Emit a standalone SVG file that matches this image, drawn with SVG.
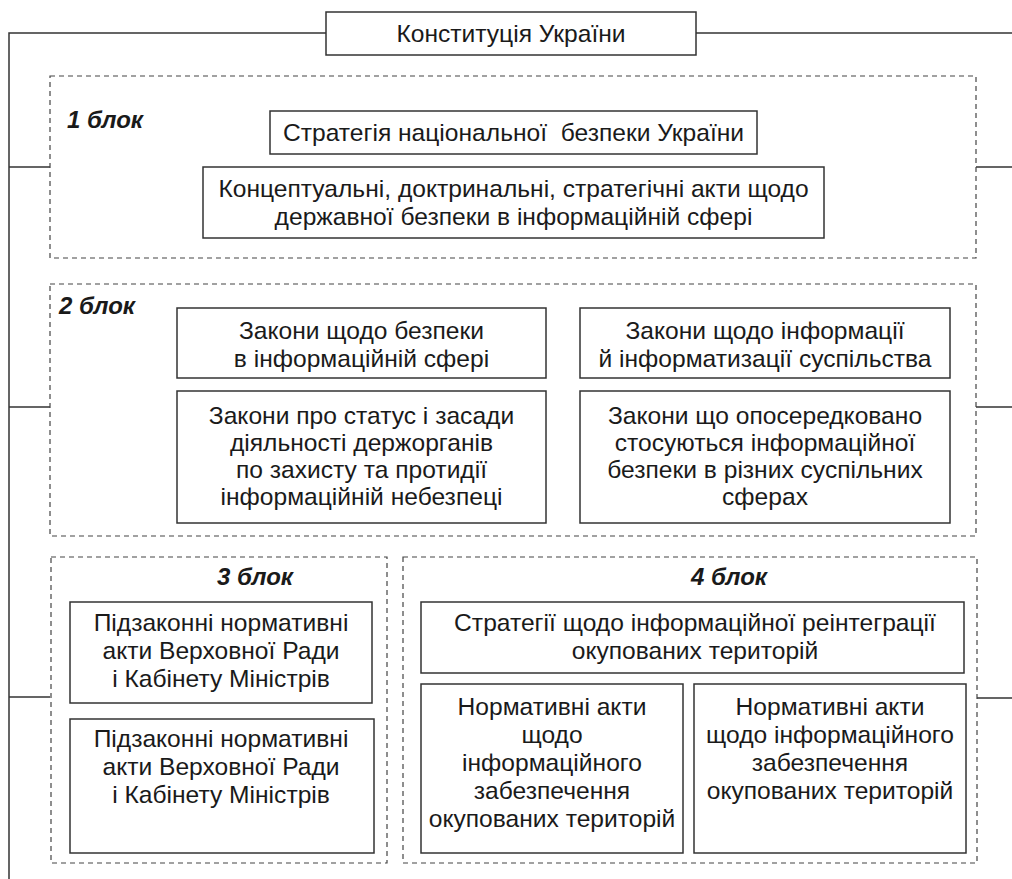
<svg xmlns="http://www.w3.org/2000/svg" width="1012" height="879" viewBox="0 0 1012 879">
<style>
.bg{fill:#ffffff}
.box{fill:#ffffff;stroke:#333333;stroke-width:1.5}
.blk{fill:none;stroke:#444444;stroke-width:1.2;stroke-dasharray:5 4}
.con{fill:none;stroke:#333333;stroke-width:1.5}
.t{font-family:"Liberation Sans",Arial,sans-serif;font-size:24.6px;fill:#1a1a1a;text-anchor:middle}
.lbl{font-family:"Liberation Sans",Arial,sans-serif;font-size:24px;font-weight:bold;font-style:italic;fill:#1a1a1a}
</style>
<rect class="bg" x="0" y="0" width="1012" height="879"/>
<g id="connectors">
<path class="con" d="M326 33H9V879"/>
<path class="con" d="M696 33H1012"/>
<path class="con" d="M9 167H50M9 407H50M9 697H50"/>
<path class="con" d="M976 167H1012M976 407H1012M977 698H1012"/>
</g>
<g id="constitution">
<rect class="box" x="326" y="12" width="370" height="43"/>
<text class="t" x="511" y="42">Конституція України</text>
</g>
<g id="block1">
<rect class="blk" x="50" y="76" width="926" height="182"/>
<text class="lbl" x="67" y="128">1 блок</text>
</g>
<g id="strategy">
<rect class="box" x="270" y="111" width="487" height="43"/>
<text class="t" x="513.5" y="141" xml:space="preserve">Стратегія національної  безпеки України</text>
</g>
<g id="concept">
<rect class="box" x="203" y="167" width="621" height="71"/>
<text class="t" x="513.5" y="197">Концептуальні, доктринальні, стратегічні акти щодо</text>
<text class="t" x="513.5" y="225">державної безпеки в інформаційній сфері</text>
</g>
<g id="block2">
<rect class="blk" x="50" y="284" width="926" height="252"/>
<text class="lbl" x="59" y="314">2 блок</text>
</g>
<g id="laws-security">
<rect class="box" x="177" y="308" width="369" height="70"/>
<text class="t" x="361.5" y="339">Закони щодо безпеки</text>
<text class="t" x="361.5" y="367">в інформаційній сфері</text>
</g>
<g id="laws-info">
<rect class="box" x="580" y="308" width="370" height="70"/>
<text class="t" x="765" y="339">Закони щодо інформації</text>
<text class="t" x="765" y="367">й інформатизації суспільства</text>
</g>
<g id="laws-status">
<rect class="box" x="177" y="391" width="369" height="132"/>
<text class="t" x="361.5" y="424">Закони про статус і засади</text>
<text class="t" x="361.5" y="451">діяльності держорганів</text>
<text class="t" x="361.5" y="478">по захисту та протидії</text>
<text class="t" x="361.5" y="505">інформаційній небезпеці</text>
</g>
<g id="laws-indirect">
<rect class="box" x="580" y="391" width="370" height="132"/>
<text class="t" x="765" y="424">Закони що опосередковано</text>
<text class="t" x="765" y="451">стосуються інформаційної</text>
<text class="t" x="765" y="478">безпеки в різних суспільних</text>
<text class="t" x="765" y="505">сферах</text>
</g>
<g id="block3">
<rect class="blk" x="51" y="557" width="336" height="306"/>
<text class="lbl" x="255" y="585" text-anchor="middle">3 блок</text>
</g>
<g id="bylaws1">
<rect class="box" x="70" y="602" width="302" height="101"/>
<text class="t" x="221" y="631">Підзаконні нормативні</text>
<text class="t" x="221" y="659">акти Верховної Ради</text>
<text class="t" x="221" y="687">і Кабінету Міністрів</text>
</g>
<g id="bylaws2">
<rect class="box" x="70" y="719" width="304" height="134"/>
<text class="t" x="221" y="747">Підзаконні нормативні</text>
<text class="t" x="221" y="775">акти Верховної Ради</text>
<text class="t" x="221" y="803">і Кабінету Міністрів</text>
</g>
<g id="block4">
<rect class="blk" x="403" y="557" width="574" height="306"/>
<text class="lbl" x="729" y="585" text-anchor="middle">4 блок</text>
</g>
<g id="reintegration">
<rect class="box" x="421" y="602" width="543" height="71"/>
<text class="t" x="695" y="631">Стратегії щодо інформаційної реінтеграції</text>
<text class="t" x="695" y="659">окупованих територій</text>
</g>
<g id="acts-left">
<rect class="box" x="421" y="684" width="262" height="169"/>
<text class="t" x="552" y="715">Нормативні акти</text>
<text class="t" x="552" y="743">щодо</text>
<text class="t" x="552" y="771">інформаційного</text>
<text class="t" x="552" y="799">забезпечення</text>
<text class="t" x="552" y="827">окупованих територій</text>
</g>
<g id="acts-right">
<rect class="box" x="694" y="684" width="272" height="169"/>
<text class="t" x="830" y="715">Нормативні акти</text>
<text class="t" x="830" y="743">щодо інформаційного</text>
<text class="t" x="830" y="771">забезпечення</text>
<text class="t" x="830" y="799">окупованих територій</text>
</g>
</svg>
